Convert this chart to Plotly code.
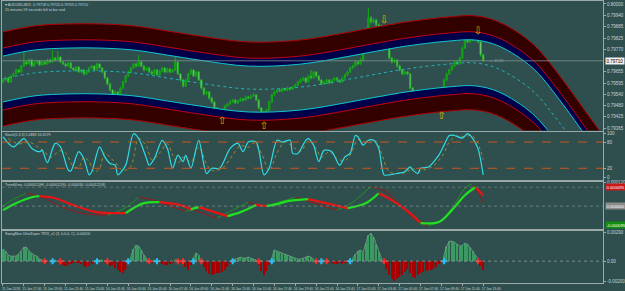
import plotly.graph_objects as go
from plotly.subplots import make_subplots

# ---------------- data ----------------
BASE = 0.79          # price base
PT = 1e-5            # one point
FIRST_OPEN_PTS = 602

CLOSE_PTS = [612, 622, 602, 632, 643, 663, 653, 683,
             704, 694, 714, 683, 699, 709, 689, 704,
             694, 714, 704, 724, 714, 729, 704, 694,
             683, 699, 673, 663, 678, 653, 663, 643,
             653, 673, 683, 663, 694, 673, 653, 622,
             592, 561, 536, 551, 525, 571, 602, 632,
             653, 673, 694, 683, 704, 683, 663, 673,
             653, 643, 663, 638, 658, 673, 653, 668,
             653, 663, 704, 643, 612, 581, 612, 643,
             663, 632, 653, 612, 571, 541, 551, 520,
             500, 469, 449, 434, 459, 479, 490, 500,
             510, 495, 505, 515, 510, 525, 520, 530,
             536, 510, 469, 449, 418, 459, 500, 536,
             551, 561, 556, 566, 561, 571, 566, 576,
             587, 602, 612, 622, 602, 632, 622, 653,
             632, 612, 592, 602, 612, 597, 612, 622,
             612, 602, 622, 638, 653, 673, 683, 704,
             694, 714, 765, 867, 928, 908, 918, 893,
             877, 887, 857, 790, 724, 704, 714, 683,
             663, 643, 653, 643, 571, 530, 541, 510,
             520, 500, 510, 490, 479, 495, 469, 459,
             479, 612, 643, 663, 683, 704, 694, 724,
             775, 816, 806, 826, 816, 826, 806, 740,
             710]
HIGH_PTS = [620, 630, 628, 638, 650, 670, 668, 690,
            785, 712, 722, 718, 706, 716, 714, 710,
            710, 720, 720, 765, 730, 760, 734, 708,
            700, 706, 704, 678, 684, 682, 670, 668,
            660, 680, 690, 688, 700, 698, 678, 658,
            628, 598, 566, 558, 556, 578, 608, 640,
            660, 680, 700, 700, 740, 710, 688, 680,
            678, 660, 670, 668, 664, 680, 678, 674,
            672, 670, 740, 708, 648, 618, 620, 650,
            670, 668, 660, 658, 618, 576, 558, 556,
            526, 506, 474, 455, 466, 486, 496, 508,
            516, 515, 512, 522, 520, 532, 530, 538,
            545, 540, 514, 474, 455, 466, 508, 542,
            558, 568, 566, 572, 570, 578, 576, 582,
            594, 608, 620, 628, 626, 640, 663, 660,
            658, 636, 618, 608, 618, 616, 618, 628,
            628, 616, 628, 645, 660, 680, 690, 712,
            710, 722, 775, 880, 979, 940, 930, 924,
            900, 895, 892, 862, 796, 730, 722, 718,
            690, 670, 660, 658, 648, 576, 548, 546,
            528, 526, 516, 514, 496, 502, 500, 474,
            486, 620, 650, 670, 690, 712, 712, 732,
            784, 831, 826, 834, 832, 836, 834, 810,
            746]
LOW_PTS = [595, 606, 596, 598, 628, 638, 646, 648,
           678, 688, 690, 678, 678, 694, 684, 684,
           688, 690, 698, 700, 708, 710, 698, 688,
           676, 678, 668, 656, 658, 648, 648, 636,
           638, 648, 668, 658, 658, 668, 646, 615,
           585, 554, 528, 530, 518, 520, 566, 596,
           626, 648, 668, 676, 678, 678, 656, 658,
           646, 636, 638, 632, 632, 652, 646, 648,
           646, 648, 658, 638, 604, 574, 576, 606,
           638, 626, 626, 606, 564, 534, 534, 512,
           492, 462, 440, 423, 428, 454, 474, 485,
           494, 490, 490, 500, 504, 505, 514, 515,
           525, 504, 462, 440, 398, 412, 454, 494,
           530, 546, 550, 550, 556, 556, 560, 560,
           570, 582, 596, 606, 596, 598, 616, 618,
           626, 606, 586, 586, 596, 590, 592, 606,
           606, 596, 598, 616, 632, 648, 668, 678,
           688, 690, 708, 760, 860, 900, 900, 886,
           870, 870, 850, 782, 716, 696, 698, 676,
           656, 636, 636, 636, 564, 522, 524, 502,
           504, 494, 494, 482, 470, 472, 444, 448,
           452, 474, 606, 638, 658, 678, 688, 690,
           718, 770, 800, 800, 810, 810, 800, 732,
           704]

UP_ARROW_BARS = [84, 100, 168]
DOWN_ARROW_BARS = [146, 182]

# channel (points), sampled at these bars (extends into the future)
BAND_BARS = [0, 12, 25, 37, 50, 63, 75, 94, 114, 133, 152, 171, 181, 190, 203, 213, 225, 232]
CENTER_PTS = [617, 648, 658, 658, 648, 622, 597, 566, 576, 617, 663, 694, 699, 668, 556, 398, 178, 51]
UPPER_OUTER = [857, 888, 898, 898, 888, 862, 837, 806, 816, 857, 903, 934, 939, 908, 796, 638, 418, 291]
UPPER_MID = [775, 806, 816, 816, 806, 780, 755, 724, 734, 775, 821, 852, 857, 826, 714, 556, 336, 209]
UPPER_INNER = [734, 765, 775, 775, 765, 739, 714, 683, 693, 734, 780, 811, 816, 785, 673, 515, 295, 168]
LOWER_INNER = [500, 531, 541, 541, 531, 505, 480, 449, 459, 500, 546, 577, 582, 551, 439, 281, 61, -66]
LOWER_MID = [459, 490, 500, 500, 490, 464, 439, 408, 418, 459, 505, 536, 541, 510, 398, 240, 20, -107]
LOWER_OUTER = [377, 408, 418, 418, 408, 382, 357, 326, 336, 377, 423, 454, 459, 428, 316, 158, -62, -189]

PRICE_TICKS = [0.80000, 0.79940, 0.79885, 0.79825, 0.79770, 0.79655, 0.79595,
               0.79540, 0.79480, 0.79425, 0.79365]

# stochastic
STOCH_BARS = [0, 4, 8, 11, 14, 15, 17, 20, 22, 25, 26, 29, 31, 33, 34, 37, 39, 41, 43, 44,
              47, 50, 52, 55, 56, 58, 61, 63, 65, 67, 69, 70, 72, 75, 78, 80, 83, 87, 90, 92,
              94, 97, 100, 102, 105, 107, 110, 111, 113, 116, 117, 119, 121, 123, 126, 129,
              131, 133, 135, 136, 138, 140, 142, 144, 146, 148, 151, 154, 156, 157, 159, 160,
              163, 166, 167, 169, 171, 173, 176, 178, 180, 182, 184]
STOCH_MAIN = [92, 69, 88, 66, 58, 61, 33, 77, 69, 16, 14, 58, 42, 5, 12, 69, 46, 31, 27, 5,
              27, 99, 88, 42, 27, 42, 84, 65, 20, 50, 35, 50, 20, 84, 8, 20, 20, 65, 77, 58,
              80, 80, 5, 20, 84, 80, 84, 54, 54, 84, 88, 73, 35, 61, 58, 27,
              46, 54, 95, 92, 73, 84, 84, 65, 5, 5, 8, 12, 23, 16, 8, 20,
              23, 42, 50, 73, 95, 95, 89, 99, 88, 65, 5]
SIG_BARS = [2, 6, 10, 13, 16, 18, 22, 24, 27, 29, 31, 33, 35, 37, 39, 41, 43, 46, 49, 52,
            55, 57, 60, 63, 65, 67, 69, 72, 75, 78, 80, 84, 88, 91, 94, 96, 99, 102, 105, 108,
            111, 114, 117, 120, 122, 125, 128, 131, 133, 136, 138, 140, 143, 145, 148, 152,
            155, 157, 159, 161, 164, 167, 169, 171, 174, 177, 179, 181, 183, 184]
SIG_VALS = [88, 76, 80, 70, 58, 45, 60, 55, 24, 22, 45, 35, 12, 20, 55, 45, 33, 15, 25, 88,
            70, 40, 55, 76, 50, 32, 45, 35, 68, 30, 15, 20, 50, 72, 68, 78, 55, 15, 55, 80,
            70, 58, 82, 65, 45, 58, 42, 38, 50, 85, 82, 78, 82, 55, 12, 8,
            12, 20, 12, 16, 22, 38, 55, 80, 94, 92, 95, 88, 60, 40]
STOCH_LEVELS = [20, 80]

# trend indicator (units of 1e-6)
THICK_BARS = [0, 5, 11, 14, 20, 27, 36, 47, 54, 60, 68, 72, 75, 86, 91, 97, 101, 105, 109,
              117, 132, 139, 144, 149, 156, 160, 167, 172, 177, 181, 184]
THICK_VALS = [-20, 15, 45, 50, 40, 5, -30, -35, 15, 20, 5, -15, -5, -50, -30, 6, 0, 10, 25,
              35, -10, 15, 65, 30, -35, -85, -80, -20, 55, 95, 55]
THIN_BARS = [0, 4, 9, 15, 22, 30, 40, 46, 52, 58, 64, 70, 73, 82, 88, 94, 99, 103, 112, 118,
             128, 134, 141, 147, 152, 158, 163, 168, 173, 177, 180, 184]
THIN_VALS = [0, 35, 65, 45, 0, -35, -45, -15, 45, 30, 0, -25, -20, -60, -20, 20, 0, 10, 45, 20,
             -20, 20, 100, 70, 10, -70, -100, -70, 10, 90, 115, 20]

# TRIX histogram (units of 1e-4), one per bar
HIST_VALS = [12, 10, 6, 5, 5, 5, 7, 10, 14, 14, 10, 8, 6, 5, 2, 1,
             -1, -1, -0.5, 1, 0.5, -1, -2, -4, -5, -4, -3, -2, -2, -2, -3, -5,
             -6, -5, -3, -1, 1, 1, 0.5, -1, -3, -5, -4, -7, -9, -11, -12, -9,
             -3, 5, 12, 16, 15, 11, 6, 3, -1, -2, 1, -1, -2, -3, -4, -4,
             -3, -2, 1, 1, -1, -3, -6, -9, -4, 3, 8, 6, -2, -6, -10, -13,
             -14, -13, -12, -12, -11, -9, -6, -3, 1, 2, 3, 4, 3, 3, 4, 3,
             2, 1, -4, -10, -14, -10, -4, 3, 11, 10, 9, 8, 7, 6, 5, 4,
             3, 2, 2, 3, 4, 5, 4, 2, -1, -1, 1, 0.5, -1, -2, -2, -3,
             -3, -2, -3, -2, -1, -1, 3, 7, 10, 11, 9, 18, 26, 28, 24, 17,
             9, 3, -2, -8, -14, -18, -20, -18, -16, -14, -11, -8, -12, -16, -17, -14,
             -12, -11, -10, -9, -9, -8, -6, -3, -1, 6, 15, 20, 20, 19, 17, 15,
             16, 18, 17, 14, 10, 6, 2, -5, -9]
RED_MARK_BARS = [16, 22, 40, 56, 67, 69, 76, 98, 120, 124, 146, 182]
CYAN_MARK_BARS = [19, 36, 48, 59, 73, 88, 103, 122, 133, 169]

DATE_LABELS = ["15 Jan 2018", "15 Jan 17:40", "15 Jan 19:40", "15 Jan 21:40", "15 Jan 23:40",
               "16 Jan 01:40", "16 Jan 03:40", "16 Jan 05:40", "16 Jan 07:40", "16 Jan 09:40",
               "16 Jan 11:40", "16 Jan 13:40", "16 Jan 15:40", "16 Jan 17:40", "16 Jan 19:40",
               "16 Jan 21:40", "16 Jan 23:40", "17 Jan 01:40", "17 Jan 03:40", "17 Jan 05:40",
               "17 Jan 07:40", "17 Jan 09:40", "17 Jan 11:40", "17 Jan 13:40"]
DATE_STEP = 8

# ---------------- styling ----------------
BG = "#2f4f4f"
FG = "#c8d2d2"
AXC = "#9aa8a8"
FONT = "Liberation Sans"

def px(v):
    return BASE + v * PT

bars = list(range(len(CLOSE_PTS)))
opens = [FIRST_OPEN_PTS] + CLOSE_PTS[:-1]

fig = make_subplots(rows=4, cols=1, shared_xaxes=True, vertical_spacing=0)

# channel bands
def band(vals, color, fill=None, fillcolor=None, width=1.0, dash=None):
    fig.add_trace(go.Scatter(
        x=BAND_BARS, y=[px(v) for v in vals], mode="lines",
        line=dict(color=color, width=width, shape="spline", smoothing=1.0, dash=dash),
        fill=fill, fillcolor=fillcolor, hoverinfo="skip"), row=1, col=1)

band(UPPER_OUTER, "#b00000")
band(UPPER_MID, "#c00010", fill="tonexty", fillcolor="#330000")
band(UPPER_INNER, "#10c8d0", fill="tonexty", fillcolor="#00004a")
band(LOWER_INNER, "#10c8d0")
band(LOWER_MID, "#c00010", fill="tonexty", fillcolor="#00004a")
band(LOWER_OUTER, "#b00000", fill="tonexty", fillcolor="#330000")
band(CENTER_PTS, "#22b4b4", dash="dot")

# bid line
bid = px(CLOSE_PTS[-1])
fig.add_shape(type="line", xref="x domain", yref="y", x0=0, x1=1, y0=bid, y1=bid,
              line=dict(color="#7f9090", width=0.8))

# candles
fig.add_trace(go.Candlestick(
    x=bars, open=[px(v) for v in opens], high=[px(v) for v in HIGH_PTS],
    low=[px(v) for v in LOW_PTS], close=[px(v) for v in CLOSE_PTS],
    increasing=dict(line=dict(color="#14a814", width=1), fillcolor="#0a8a0a"),
    decreasing=dict(line=dict(color="#28b028", width=1), fillcolor="#c8f0c8"),
    whiskerwidth=0, hoverinfo="skip"), row=1, col=1)

# signal arrows
fig.add_trace(go.Scatter(
    x=UP_ARROW_BARS, y=[px(LOW_PTS[b]) for b in UP_ARROW_BARS], mode="text",
    text=["⇧"] * len(UP_ARROW_BARS), textposition="bottom center",
    textfont=dict(family="DejaVu Sans", size=10, color="#e8b000"), hoverinfo="skip"), row=1, col=1)
fig.add_trace(go.Scatter(
    x=DOWN_ARROW_BARS, y=[px(HIGH_PTS[b]) for b in DOWN_ARROW_BARS], mode="text",
    text=["⇩"] * len(DOWN_ARROW_BARS), textposition="top center",
    textfont=dict(family="DejaVu Sans", size=10, color="#e8b000"), hoverinfo="skip"), row=1, col=1)

# stochastic
for lv in STOCH_LEVELS:
    fig.add_shape(type="line", xref="x2 domain", yref="y2", x0=0, x1=1, y0=lv, y1=lv,
                  line=dict(color="#c8561e", width=1, dash="dash"))
fig.add_trace(go.Scatter(x=SIG_BARS, y=SIG_VALS, mode="lines",
                         line=dict(color="#9a8c30", width=1, dash="dot", shape="spline"),
                         hoverinfo="skip"), row=2, col=1)
fig.add_trace(go.Scatter(x=STOCH_BARS, y=STOCH_MAIN, mode="lines",
                         line=dict(color="#30dce6", width=1.2, shape="spline", smoothing=0.8),
                         hoverinfo="skip"), row=2, col=1)

# trend indicator
for lv, col in [(0, "#7a8a8a"), (95, "#6a7a7a")]:
    fig.add_shape(type="line", xref="x3 domain", yref="y3", x0=0, x1=1, y0=lv, y1=lv,
                  line=dict(color=col, width=0.8, dash="dot"))

def slope_runs(xs, ys):
    runs, cur = [], None
    for k in range(len(xs) - 1):
        up = ys[k + 1] >= ys[k]
        if cur is None or cur[0] != up:
            cur = [up, [xs[k]], [ys[k]]]
            runs.append(cur)
        cur[1].append(xs[k + 1])
        cur[2].append(ys[k + 1])
    return runs

for up, xs, ys in slope_runs(THIN_BARS, THIN_VALS):
    fig.add_trace(go.Scatter(x=xs, y=ys, mode="lines",
                             line=dict(color="#1e9a1e" if up else "#a81010", width=0.9, shape="spline"),
                             hoverinfo="skip"), row=3, col=1)
for up, xs, ys in slope_runs(THICK_BARS, THICK_VALS):
    fig.add_trace(go.Scatter(x=xs, y=ys, mode="lines",
                             line=dict(color="#20e020" if up else "#e81414", width=2.2, shape="spline"),
                             hoverinfo="skip"), row=3, col=1)

# histogram
fig.add_shape(type="line", xref="x4 domain", yref="y4", x0=0, x1=1, y0=0, y1=0,
              line=dict(color="#8a9a9a", width=0.8, dash="dot"))
fig.add_trace(go.Bar(x=bars, y=HIST_VALS,
                     marker=dict(color=["#3a9a62" if v >= 0 else "#a80000" for v in HIST_VALS],
                                 line=dict(width=0)),
                     width=0.55, hoverinfo="skip"), row=4, col=1)
fig.add_trace(go.Scatter(x=bars, y=[v if v > 0 else None for v in HIST_VALS], mode="lines",
                         line=dict(color="#74a484", width=0.8), hoverinfo="skip"), row=4, col=1)
fig.add_trace(go.Scatter(x=RED_MARK_BARS, y=[0] * len(RED_MARK_BARS), mode="markers",
                         marker=dict(symbol="cross", size=5, color="#ff2a2a", line=dict(width=0)),
                         hoverinfo="skip"), row=4, col=1)
fig.add_trace(go.Scatter(x=CYAN_MARK_BARS, y=[0] * len(CYAN_MARK_BARS), mode="markers",
                         marker=dict(symbol="cross", size=5, color="#22c4ff", line=dict(width=0)),
                         hoverinfo="skip"), row=4, col=1)

# ---------------- layout ----------------
H, TOP, BOT = 291, 1, 8
PLOT_H = H - TOP - BOT
def dom(top_px, bot_px):
    return [(H - BOT - bot_px) / PLOT_H, (H - BOT - top_px) / PLOT_H]

tickfont = dict(family=FONT, size=4.5, color=FG)
fig.update_layout(
    width=625, height=H, margin=dict(l=2, r=22, t=TOP, b=BOT, autoexpand=False),
    paper_bgcolor=BG, plot_bgcolor=BG, showlegend=False, bargap=0.4,
    font=dict(family=FONT, color=FG),
)
fig.update_xaxes(range=[-0.38, 229.9], showgrid=False, zeroline=False, showline=True,
                 mirror=True, linecolor=AXC, linewidth=1, rangeslider_visible=False,
                 automargin=False, tickangle=0,
                 tickvals=list(range(0, len(CLOSE_PTS), DATE_STEP)), ticktext=DATE_LABELS)
fig.update_xaxes(ticks="outside", ticklen=2, tickcolor=AXC,
                 tickfont=dict(family=FONT, size=3.3, color=FG),
                 ticklabelshift=8, ticklabelstandoff=0, row=4, col=1)
fig.update_yaxes(side="right", showgrid=False, zeroline=False, showline=True, mirror=True,
                 linecolor=AXC, linewidth=1, ticks="outside", ticklen=2, tickcolor=AXC,
                 tickfont=tickfont, automargin=False)
fig.update_yaxes(domain=dom(1, 130.5), range=[px(354.5), px(1015)],
                 tickvals=PRICE_TICKS, ticktext=[f"{v:.5f}" for v in PRICE_TICKS], row=1, col=1)
fig.update_yaxes(domain=dom(131.8, 180), range=[-6.8, 103.4],
                 tickvals=[0, 20, 80, 100], ticktext=["0", "20", "80", "100"], row=2, col=1)
fig.update_yaxes(domain=dom(181.8, 229), range=[-115, 122.5],
                 tickvals=[120], ticktext=["0.000120"], row=3, col=1)
fig.update_yaxes(domain=dom(230.8, 283), range=[-22, 30.5],
                 tickvals=[29, 0, -20], ticktext=["0.00290", "0.00", "-0.00200"], row=4, col=1)

def note(text, xp, ypx, size=3.6, color=FG):
    fig.add_annotation(text=text, xref="paper", yref="paper", x=(xp - 2) / 601,
                       y=(H - BOT - ypx) / PLOT_H, xanchor="left", yanchor="middle",
                       showarrow=False, font=dict(family=FONT, size=size, color=color))

note("▾ AUDUSD,M15  0.79718 0.79720 0.79705 0.79710", 3, 4.5)
note("15 minutes 59 seconds left to bar end", 3, 10)
note("Stoch(5,3,3) 5.0883 16.6579", 3, 134.5)
note("TrendVisio -0.000012(H) -0.000012(S) -0.000034 -0.000122(S)", 3, 184.5)
note("SwingMan UltraSuper TRIX_v1 (3, 0,0,0, C) -0.00016", 3, 233.5)

fig.add_annotation(text="<- 15:59", xref="x", yref="y", x=len(CLOSE_PTS) + 1, y=bid,
                   xanchor="left", yanchor="middle", showarrow=False,
                   font=dict(family=FONT, size=3.6, color="#9aa6a6"))
fig.add_annotation(text=f"{bid:.5f}", xref="paper", yref="y", x=1.003, y=bid,
                   xanchor="left", yanchor="middle", showarrow=False, bgcolor="#f0f0f0",
                   borderpad=0.5, font=dict(family=FONT, size=4.5, color="#000000"))
for val, txt, bgc in [(95, "0.000095", "#c81818"), (0, "0.000000", "#8c8c8c"), (-95, "-0.000095", "#109010")]:
    fig.add_annotation(text=txt, xref="paper", yref="y3", x=1.003, y=val,
                       xanchor="left", yanchor="middle", showarrow=False, bgcolor=bgc,
                       borderpad=0.5, font=dict(family=FONT, size=4.2, color="#ffffff"))

fig.write_html("out.html")
